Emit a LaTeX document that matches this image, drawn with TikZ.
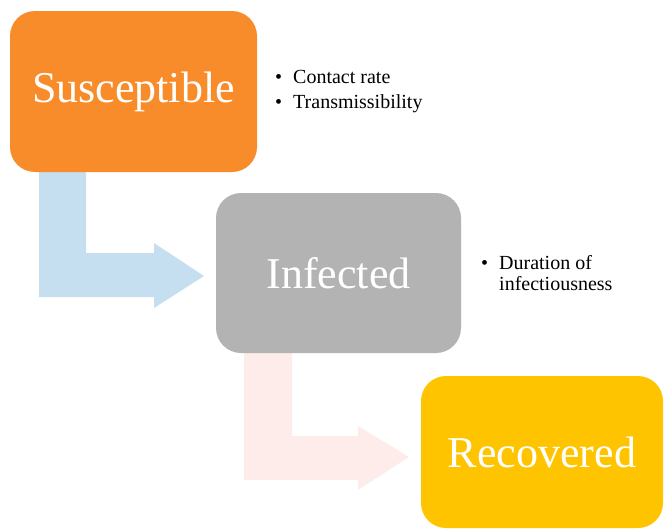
\documentclass[tikz,border=0pt]{standalone}
\usepackage{fontspec}
\setmainfont{Liberation Serif}
\usepackage{tikz}
\usetikzlibrary{positioning}

\definecolor{susorange}{RGB}{248,140,42}
\definecolor{infgray}{RGB}{179,179,179}
\definecolor{recyellow}{RGB}{255,196,0}
\definecolor{flowblue}{RGB}{197,222,240}
\definecolor{flowpink}{RGB}{253,236,234}

\tikzset{
  stage/.style={rounded corners=25pt,inner sep=0pt,text=white,
    font=\fontsize{44}{48}\selectfont},
  item/.style={anchor=base west,inner sep=0pt,
    font=\fontsize{20}{24}\selectfont}
}

\begin{document}
\begin{tikzpicture}[x=1pt,y=-1pt]
\useasboundingbox (0,0) rectangle (664,530);

% bent arrows between the stages
\fill[flowblue] (39,172) -- (86,172) -- (86,253) -- (154,253) -- (154,243)
  -- (204,276) -- (154,308) -- (154,297) -- (39,297) -- cycle;
\fill[flowpink] (244,353) -- (292,353) -- (292,436) -- (358,436) -- (358,426)
  -- (409,457) -- (358,490) -- (358,480) -- (244,480) -- cycle;

% stages
\node (sus) [stage,fill=susorange,minimum width=247pt,minimum height=161pt]
  at (133.5,91.5) {Susceptible};
\node (inf) [stage,fill=infgray,minimum width=245pt,minimum height=160pt]
  at (338.5,273) {Infected};
\node (rec) [stage,fill=recyellow,minimum width=242pt,minimum height=152pt]
  at (542,452) {Recovered};

% factors
\node (contact) [item] at (275,83) {\makebox[18pt][l]{\textbullet}Contact rate};
\node (trans) [item] at (275,108) {\makebox[18pt][l]{\textbullet}Transmissibility};
\node (duration) [item] at (481,269) {\makebox[18pt][l]{\textbullet}Duration of};
\node (infness) [item] at (499,290) {infectiousness};
\end{tikzpicture}
\end{document}
